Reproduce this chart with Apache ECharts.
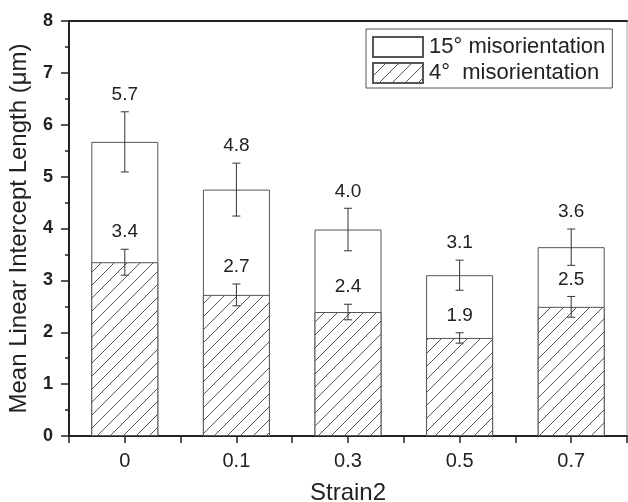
<!DOCTYPE html>
<html><head><meta charset="utf-8">
<script src="https://cdn.jsdelivr.net/npm/echarts@6/dist/echarts.min.js"></script>
<style>html,body{margin:0;padding:0;background:#fff}#c{width:628px;height:502px}</style>
</head><body><div id="c"></div>
<script>
const categories = ['0', '0.1', '0.3', '0.5', '0.7'];
const len15 = [5.67, 4.75, 3.98, 3.10, 3.64];
const err15 = [0.58, 0.51, 0.41, 0.29, 0.35];
const lbl15 = ['5.7', '4.8', '4.0', '3.1', '3.6'];
const len4 = [3.35, 2.72, 2.39, 1.89, 2.49];
const err4 = [0.25, 0.21, 0.15, 0.10, 0.20];
const lbl4 = ['3.4', '2.7', '2.4', '1.9', '2.5'];
const name15 = '15° misorientation';
const name4 = '4°  misorientation';

const FONT = 'Liberation Sans, Arial, sans-serif';

// hatch pattern
const pc = document.createElement('canvas');
const S = 13;
pc.width = S; pc.height = S;
const g = pc.getContext('2d');
g.fillStyle = '#fff'; g.fillRect(0, 0, S, S);
g.strokeStyle = '#555'; g.lineWidth = 1;
g.beginPath();
g.moveTo(-1, S + 1); g.lineTo(S + 1, -1);
g.moveTo(-2, 2); g.lineTo(2, -2);
g.moveTo(S - 2, S + 2); g.lineTo(S + 2, S - 2);
g.stroke();

const chart = echarts.init(document.getElementById('c'));

function errSeries(vals, errs, labels) {
  return {
    type: 'custom',
    xAxisIndex: 0, yAxisIndex: 0,
    z: 10,
    silent: true,
    data: vals.map((v, i) => [i, v, errs[i]]),
    renderItem: function (params, api) {
      const x = api.value(0), v = api.value(1), e = api.value(2);
      const top = api.coord([x, v + e]);
      const bot = api.coord([x, v - e]);
      const hw = 4;
      const st = { stroke: '#333', lineWidth: 1 };
      return {
        type: 'group',
        children: [
          { type: 'line', shape: { x1: top[0], y1: top[1], x2: bot[0], y2: bot[1] }, style: st },
          { type: 'line', shape: { x1: top[0] - hw, y1: top[1], x2: top[0] + hw, y2: top[1] }, style: st },
          { type: 'line', shape: { x1: bot[0] - hw, y1: bot[1], x2: bot[0] + hw, y2: bot[1] }, style: st },
          { type: 'text', style: { text: labels[params.dataIndex], x: top[0], y: top[1] - 17,
              align: 'center', verticalAlign: 'middle', font: '19px ' + FONT, fill: '#222' } }
        ]
      };
    }
  };
}

chart.setOption({
  animation: false,
  backgroundColor: '#fff',
  grid: { left: 69, right: 1, top: 21, bottom: 66, containLabel: false, outerBoundsMode: 'none',
    show: true, borderColor: '#aaa', borderWidth: 1, backgroundColor: 'transparent' },
  legend: {
    orient: 'vertical', left: 366, top: 29,
    padding: [7, 7, 4, 6], itemGap: 4,
    itemWidth: 50, itemHeight: 20,
    borderColor: '#555', borderWidth: 1,
    icon: 'rect',
    textStyle: { fontFamily: FONT, fontSize: 22, color: '#222', padding: [0, 0, 0, 1] },
    data: [name15, name4]
  },
  xAxis: [{
    type: 'value', position: 'bottom', min: -0.5, max: 4.5, interval: 0.5,
    name: 'Strain2', nameLocation: 'middle', nameGap: 45,
    nameTextStyle: { fontFamily: FONT, fontSize: 24, color: '#222' },
    axisLine: { show: true, onZero: false, lineStyle: { color: '#222', width: 2 } },
    axisTick: { show: true, length: 7, lineStyle: { color: '#222', width: 1.5 } },
    axisLabel: { fontFamily: FONT, fontSize: 20, color: '#222', margin: 15, showMinLabel: true, showMaxLabel: true,
      formatter: v => (Math.abs(v - Math.round(v)) < 1e-6 && v >= 0 && v < categories.length) ? categories[Math.round(v)] : '' },
    splitLine: { show: false }
  }, {
    type: 'value', position: 'top', min: -0.5, max: 4.5,
    axisLine: { show: true, onZero: false, lineStyle: { color: '#222', width: 2 } },
    axisTick: { show: false }, axisLabel: { show: false }, splitLine: { show: false }
  }],
  yAxis: {
    type: 'value', min: 0, max: 8, interval: 1,
    name: 'Mean Linear Intercept Length (μm)', nameLocation: 'middle', nameGap: 38,
    nameTextStyle: { fontFamily: FONT, fontSize: 24, color: '#222' },
    axisLine: { show: true, onZero: false, lineStyle: { color: '#222', width: 2 } },
    axisTick: { show: true, length: 8, lineStyle: { color: '#222', width: 1.5 } },
    minorTick: { show: true, splitNumber: 2, length: 4, lineStyle: { color: '#222', width: 1.5 } },
    axisLabel: { fontFamily: FONT, fontSize: 18, fontWeight: 'bold', color: '#222', margin: 16 },
    splitLine: { show: false }
  },
  series: [
    {
      name: name15, type: 'bar', xAxisIndex: 0, barWidth: 67, barGap: '-100%',
      data: len15.map((v, i) => [i, v]),
      itemStyle: { color: '#fff', borderColor: '#555', borderWidth: 1 }
    },
    {
      name: name4, type: 'bar', xAxisIndex: 0, barWidth: 67, barGap: '-100%',
      data: len4.map((v, i) => [i, v]),
      itemStyle: { color: { image: pc, repeat: 'repeat' }, borderColor: '#555', borderWidth: 1 }
    },
    errSeries(len15, err15, lbl15),
    errSeries(len4, err4, lbl4)
  ]
});
</script></body></html>
